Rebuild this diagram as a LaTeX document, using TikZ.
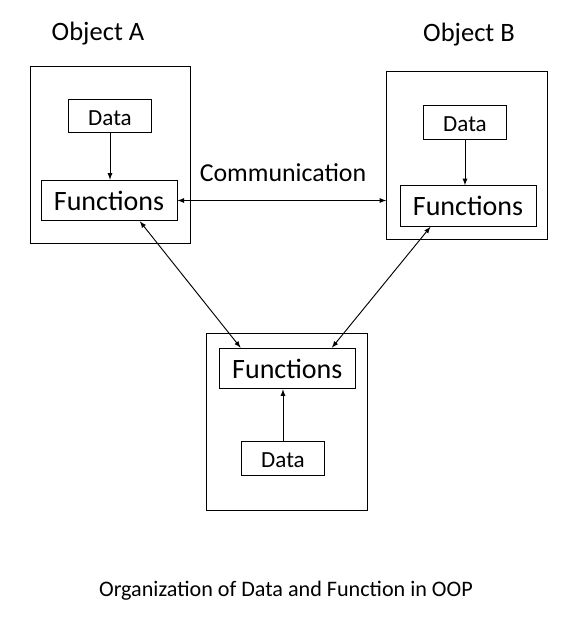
\documentclass[tikz,border=0pt]{standalone}
\usepackage{fontspec}
\setmainfont{Carlito}
\begin{document}
\begin{tikzpicture}[x=0.75pt,y=-0.75pt,line width=0.7pt,
    box/.style={draw,inner sep=0pt},
    objbox/.style={box,minimum width=120.5pt,minimum height=133pt},
    databox/.style={box,minimum width=62pt,minimum height=25pt,text height=14pt,font=\fontsize{17.3}{20}\selectfont},
    funbox/.style={box,minimum width=102pt,minimum height=30.5pt,font=\fontsize{21}{24}\selectfont},
    title/.style={font=\fontsize{19.9}{23}\selectfont}]
    \useasboundingbox (0,0) rectangle (580,625);
    % objects
    \node[objbox] (objA) at (110.5,155) {};
    \node[objbox,minimum height=126pt] (objB) at (467,155) {};
    \node[objbox] (objC) at (287,421.7) {};
    \node[title] (labA) at (98,34) {Object A};
    \node[title] (labB) at (469,35) {Object B};
    % data and functions
    \node[databox] (dataA) at (110,116) {Data};
    \node[funbox] (funA) at (109,200.5) {Functions};
    \node[databox] (dataB) at (465,122.3) {Data};
    \node[funbox] (funB) at (468,206) {Functions};
    \node[funbox] (funC) at (287.3,368.5) {Functions};
    \node[databox] (dataC) at (283,458.3) {Data};
    \draw[-latex] (dataA.south) -- (dataA.south |- funA.north);
    \draw[-latex] (dataB.south) -- (dataB.south |- funB.north);
    \draw[-latex] (dataC.north) -- (dataC.north |- funC.south);
    % communication
    \draw[latex-latex] (funA.east) -- (funA.east -| objB.west);
    \node[font=\fontsize{19.4}{22}\selectfont] (comm) at (283,173) {Communication};
    \draw[latex-latex] (funA.-34) -- (funC.156);
    \draw[latex-latex] (funB.-151) -- (funC.25);
    \node[font=\fontsize{16.6}{19}\selectfont] (cap) at (286,591) {Organization of Data and Function in OOP};
\end{tikzpicture}
\end{document}
